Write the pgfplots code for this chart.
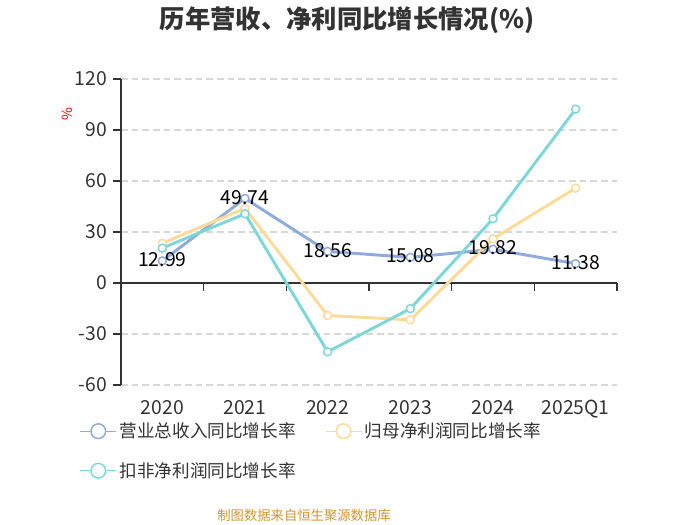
\documentclass[border=0pt]{standalone}
\usepackage{fontspec}
\setmainfont{Noto Sans CJK SC}
\usepackage{pgfplots}
\pgfplotsset{compat=1.18}
\definecolor{cblue}{RGB}{143,170,220}
\definecolor{corange}{RGB}{253,218,152}
\definecolor{cteal}{RGB}{125,215,215}
\definecolor{ctext}{RGB}{51,51,51}
\definecolor{cgrid}{RGB}{215,215,215}
\definecolor{csrc}{RGB}{208,150,50}
\begin{document}
\begin{tikzpicture}
\useasboundingbox (0,0) rectangle (525pt,393.75pt);
\node[font=\fontsize{19pt}{22pt}\selectfont\bfseries, text=ctext] at (260.25pt,378.75pt) {历年营收、净利同比增长情况(\%)};
\node[font=\fontsize{10pt}{12pt}\selectfont, text=csrc] at (228pt,7.5pt) {制图数据来自恒生聚源数据库};
\begin{axis}[
  at={(90.75pt,105pt)}, anchor=south west, scale only axis,
  width=372pt, height=229.5pt,
  xmin=-0.5, xmax=5.5, ymin=-60, ymax=120,
  ytick={-60,-30,0,30,60,90,120},
  xtick={0,1,2,3,4,5},
  xticklabels={2020,2021,2022,2023,2024,2025Q1},
  axis x line*=bottom, axis y line*=left,
  x axis line style={draw=none},
  major x tick style={draw=none},
  y axis line style={ctext, line width=1pt},
  major y tick style={ctext, line width=1pt},
  tick align=outside, major tick length=6pt,
  ymajorgrids, grid style={cgrid, line width=0.8pt, dash pattern=on 5pt off 3pt},
  /pgf/number format/assume math mode=true,
  tick label style={font=\fontsize{14.5pt}{16pt}\selectfont, text=ctext},
  xticklabel style={yshift=-2pt},
  yticklabel style={xshift=-1pt},
  ylabel={\%},
  ylabel style={at={(axis description cs:-0.109,0.885)}, anchor=center, text=red, font=\fontsize{10.5pt}{12pt}\selectfont},
  legend style={at={(axis description cs:-0.092,-0.105)}, anchor=north west, draw=none, fill=none,
    font=\fontsize{13.2pt}{15pt}\selectfont, text=ctext, row sep=13pt,
    /tikz/every even column/.append style={column sep=20pt}},
  legend columns=2,
  legend cell align=left,
  legend image code/.code={\draw[mark repeat=2,mark phase=2,#1,line width=1pt,mark size=5.5pt] plot coordinates {(0pt,0pt)(13.5pt,0pt)(27pt,0pt)};},
  clip=false
]
\draw[ctext, line width=1pt] (axis cs:-0.5,0) -- (axis cs:5.5,0);
\pgfplotsinvokeforeach{-0.5,0.5,1.5,2.5,3.5,4.5,5.5}{
  \draw[ctext, line width=1pt] (axis cs:#1,0) -- ([yshift=-6pt]axis cs:#1,0);
}
\addplot[cblue, line width=2.2pt, mark=*, mark size=3pt, mark options={fill=white, line width=1.1pt}]
  coordinates {(0,12.99) (1,49.74) (2,18.56) (3,15.08) (4,19.82) (5,11.38)};
\addlegendentry{营业总收入同比增长率}
\addplot[corange, line width=2.2pt, mark=*, mark size=3pt, mark options={fill=white, line width=1.1pt}]
  coordinates {(0,23.4) (1,43.9) (2,-19.1) (3,-21.7) (4,26.0) (5,55.8)};
\addlegendentry{归母净利润同比增长率}
\addplot[cteal, line width=2.2pt, mark=*, mark size=3pt, mark options={fill=white, line width=1.1pt}]
  coordinates {(0,20.5) (1,40.7) (2,-40.5) (3,-15.1) (4,37.8) (5,102.3)};
\addlegendentry{扣非净利润同比增长率}
\addplot[draw=none, forget plot, point meta=explicit symbolic,
  nodes near coords, every node near coord/.append style={anchor=center, yshift=1pt, text=black, font=\fontsize{14.5pt}{16pt}\selectfont}]
  coordinates {(0,12.99) [12.99] (1,49.74) [49.74] (2,18.56) [18.56] (3,15.08) [15.08] (4,19.82) [19.82] (5,11.38) [11.38]};
\end{axis}
\end{tikzpicture}
\end{document}
